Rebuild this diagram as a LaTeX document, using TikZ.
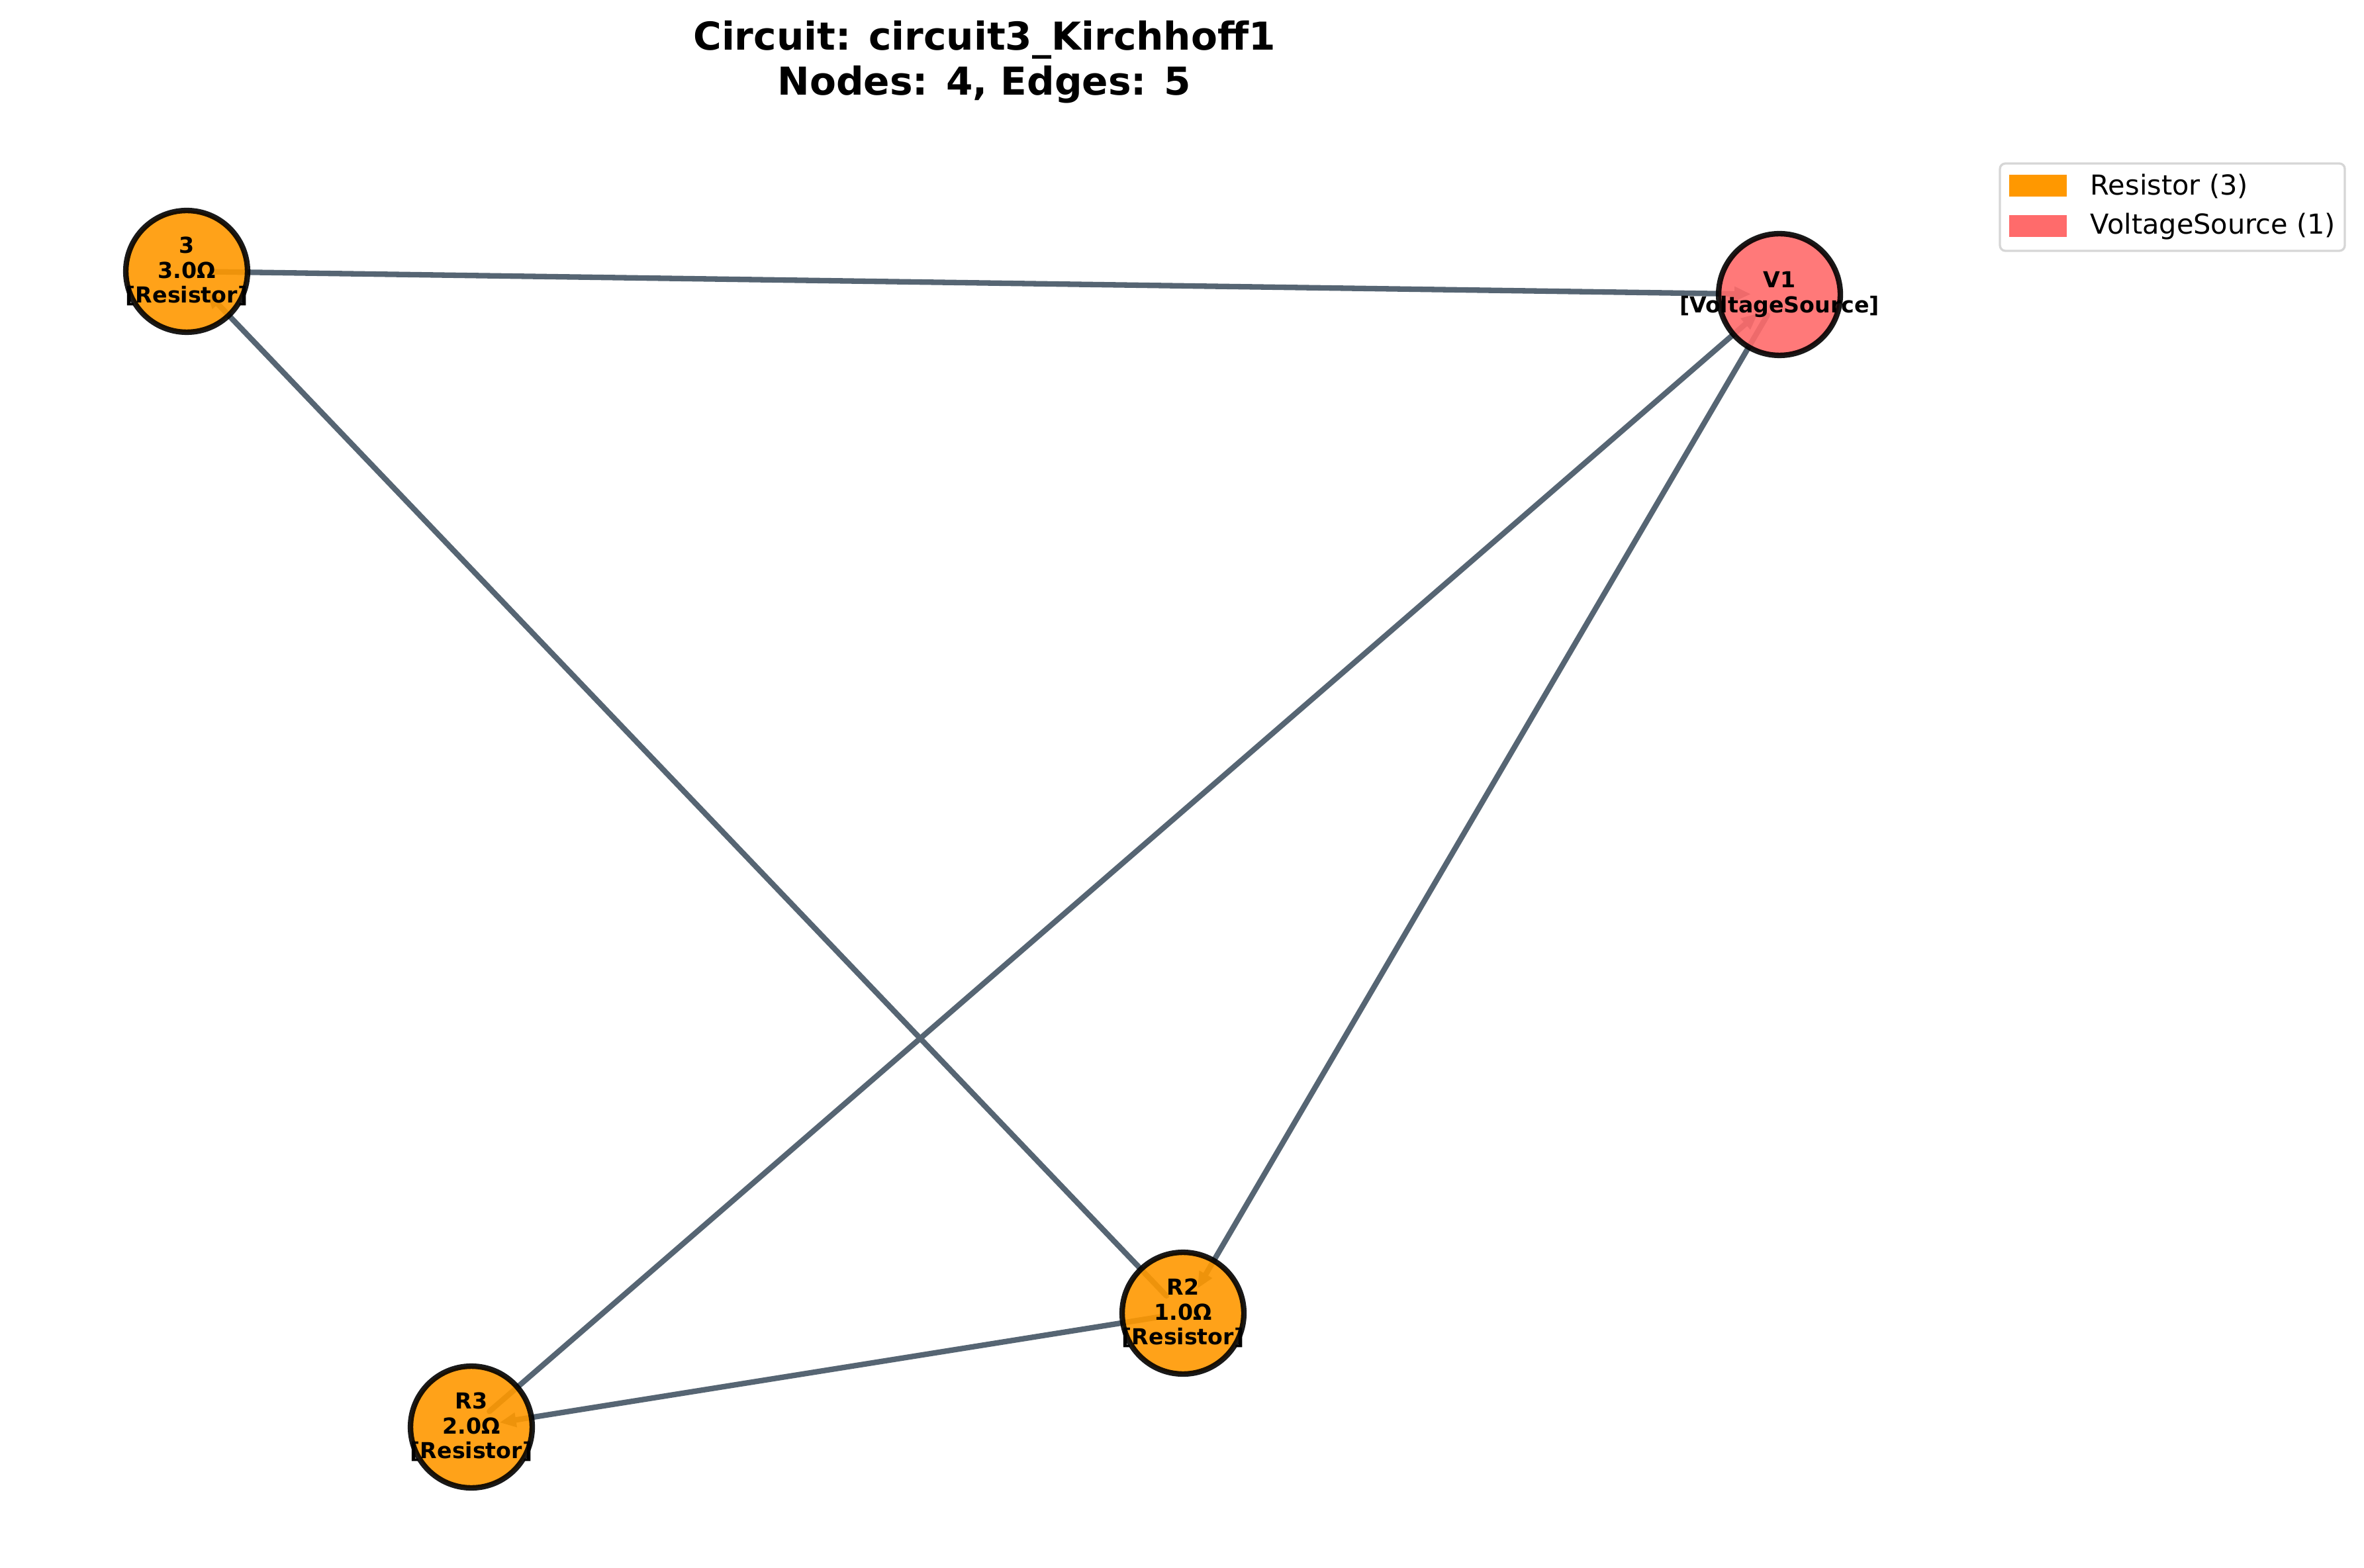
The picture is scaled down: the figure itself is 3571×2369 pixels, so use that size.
\documentclass[tikz,border=0pt]{standalone}
\usepackage{fontspec}
\setmainfont{DejaVu Sans}
\usepackage{xcolor}
\usetikzlibrary{arrows.meta, positioning}
\pgfdeclarelayer{background}
\pgfsetlayers{background,main}
\definecolor{resorange}{HTML}{FF9800}
\definecolor{vsred}{HTML}{FF6B6B}
\definecolor{wirec}{RGB}{86,101,115}
\definecolor{framec}{RGB}{214,214,214}

\begin{document}
\begin{tikzpicture}[x=0.2409pt, y=-0.2409pt, >={Triangle[length=6pt, width=5pt]},
    font=\fontsize{8}{9}\selectfont\bfseries,
    comp/.style={circle, minimum size=44.3pt, inner sep=0pt, line width=2pt, draw=black,
        draw opacity=0.9, fill opacity=0.9},
    complabel/.style={align=center, inner sep=0pt, text opacity=1},
    wire/.style={->, wirec, line width=2pt, line cap=round, shorten <=8.7pt, shorten >=10.4pt},
    keypatch/.style={minimum width=21pt, minimum height=8pt, inner sep=0pt},
    keytext/.style={anchor=west, inner sep=0pt, font=\fontsize{10}{12}\selectfont\mdseries}]

    \useasboundingbox (0,0) rectangle (3571,2369);

    % 1. Title
    \node[font=\fontsize{14}{16.4}\selectfont\bfseries, align=center] (title) at (1487,94)
        {Circuit: circuit3\_Kirchhoff1\\Nodes: 4, Edges: 5};

    % 2. Components (labels may run past the circle)
    \node[comp, fill=resorange, label={[complabel]center:3\\3.0Ω\\{[}Resistor{]}}] (n3) at (282,410) {};
    \node[comp, fill=vsred, label={[complabel]center:V1\\{[}VoltageSource{]}}] (v1) at (2688,445) {};
    \node[comp, fill=resorange, label={[complabel]center:R2\\1.0Ω\\{[}Resistor{]}}] (r2) at (1787,1984) {};
    \node[comp, fill=resorange, label={[complabel]center:R3\\2.0Ω\\{[}Resistor{]}}] (r3) at (712,2156) {};

    % 3. Wires (kept under the components)
    \begin{pgfonlayer}{background}
        \fill[white] (0,0) rectangle (3571,2369);
        \draw[wire] (n3.center) -- (v1.center);
        \draw[wire] (r3.center) -- (v1.center);
        \draw[wire] (v1.center) -- (r2.center);
        \draw[wire] (r2.center) -- (r3.center);
        \draw[wire] (r2.center) -- (n3.center);
    \end{pgfonlayer}

    % 4. Legend
    \draw[framec, line width=0.8pt, rounded corners=2pt, fill=white] (3021,247) rectangle (3542,379);
    \node[keypatch, fill=resorange] (kres) at (3078.5,280.5) {};
    \node[keytext] (kreslbl) at (3157,281) {Resistor (3)};
    \node[keypatch, fill=vsred] (kvs) at (3078.5,341.5) {};
    \node[keytext] (kvslbl) at (3157,342) {VoltageSource (1)};

\end{tikzpicture}
\end{document}
